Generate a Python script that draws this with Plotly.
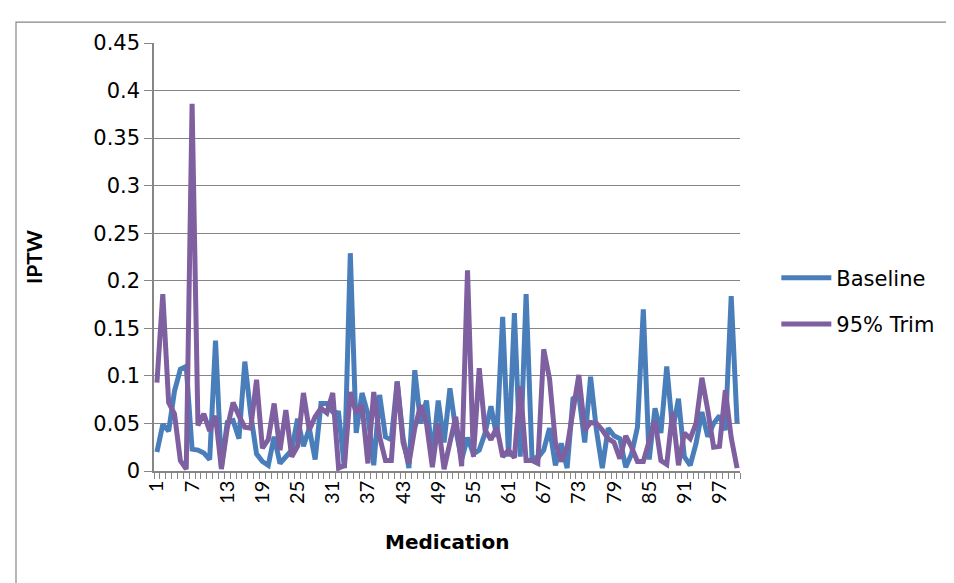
import plotly.graph_objects as go

medication = list(range(1, 101))

baseline = [
    0.020, 0.049, 0.042, 0.084, 0.107, 0.110, 0.023, 0.022, 0.019, 0.012,
    0.137, 0.004, 0.051, 0.053, 0.034, 0.115, 0.060, 0.018, 0.010, 0.006,
    0.036, 0.008, 0.015, 0.022, 0.055, 0.026, 0.045, 0.012, 0.071, 0.071,
    0.062, 0.061, 0.003, 0.229, 0.040, 0.082, 0.060, 0.006, 0.080, 0.036,
    0.033, 0.094, 0.035, 0.003, 0.106, 0.050, 0.074, 0.015, 0.074, 0.030,
    0.087, 0.043, 0.012, 0.035, 0.018, 0.022, 0.040, 0.068, 0.036, 0.162,
    0.015, 0.166, 0.015, 0.186, 0.014, 0.014, 0.022, 0.045, 0.006, 0.029,
    0.003, 0.076, 0.080, 0.030, 0.099, 0.043, 0.003, 0.045, 0.037, 0.034,
    0.004, 0.018, 0.046, 0.170, 0.012, 0.066, 0.040, 0.110, 0.043, 0.076,
    0.015, 0.006, 0.029, 0.062, 0.036, 0.050, 0.058, 0.043, 0.184, 0.050,
]

trim95 = [
    0.093, 0.186, 0.072, 0.060, 0.011, 0.002, 0.386, 0.048, 0.060, 0.042,
    0.058, 0.002, 0.045, 0.072, 0.058, 0.046, 0.045, 0.096, 0.024, 0.033,
    0.071, 0.022, 0.064, 0.015, 0.026, 0.082, 0.043, 0.057, 0.066, 0.061,
    0.082, 0.003, 0.006, 0.083, 0.061, 0.069, 0.008, 0.083, 0.036, 0.011,
    0.011, 0.094, 0.030, 0.008, 0.045, 0.069, 0.050, 0.004, 0.050, 0.002,
    0.030, 0.057, 0.005, 0.211, 0.015, 0.108, 0.043, 0.033, 0.046, 0.015,
    0.022, 0.014, 0.089, 0.011, 0.011, 0.008, 0.128, 0.097, 0.030, 0.010,
    0.025, 0.060, 0.101, 0.043, 0.051, 0.050, 0.043, 0.034, 0.030, 0.013,
    0.037, 0.025, 0.010, 0.010, 0.030, 0.053, 0.011, 0.007, 0.062, 0.006,
    0.040, 0.034, 0.050, 0.098, 0.064, 0.025, 0.026, 0.085, 0.035, 0.003,
]

x_tickvals = list(range(1, 101, 6))
x_ticktext = [str(v) for v in x_tickvals]
y_tickvals = [0, 0.05, 0.1, 0.15, 0.2, 0.25, 0.3, 0.35, 0.4, 0.45]
y_ticktext = ["0", "0.05", "0.1", "0.15", "0.2", "0.25", "0.3", "0.35", "0.4", "0.45"]

WIDE = "'DejaVu Sans', 'Liberation Sans', sans-serif"
NARROW = "Lato, 'Liberation Sans', sans-serif"
GRID = "#868686"

fig = go.Figure()
fig.add_trace(go.Scatter(
    x=medication, y=baseline, mode="lines", name="Baseline",
    line=dict(color="#4a7ebb", width=5), legendgroup="a",
))
fig.add_trace(go.Scatter(
    x=medication, y=trim95, mode="lines", name="95% Trim",
    line=dict(color="#7e5fa0", width=5), legendgroup="b",
))

fig.update_layout(
    width=946, height=575,
    margin=dict(l=146, r=214, t=35, b=112),
    paper_bgcolor="white", plot_bgcolor="white",
    font=dict(family=WIDE, size=21, color="#000000"),
    showlegend=True,
    legend=dict(
        x=1.062, y=0.397, xanchor="left", yanchor="middle",
        font=dict(family=WIDE, size=21), tracegroupgap=16,
        bgcolor="rgba(0,0,0,0)", itemwidth=50,
    ),
    xaxis=dict(
        range=[0.5, 100.5], tickmode="array", tickvals=x_tickvals, ticktext=x_ticktext,
        tickangle=-90, showgrid=False, zeroline=False,
        showline=True, linecolor=GRID, linewidth=1.5,
        ticks="", tickfont=dict(family=NARROW, size=20),
        minor=dict(tickmode="linear", tick0=0.5, dtick=1, ticks="outside",
                   ticklen=6, tickcolor=GRID, tickwidth=1, showgrid=False),
    ),
    yaxis=dict(
        range=[0, 0.45], tickmode="array", tickvals=y_tickvals, ticktext=y_ticktext,
        showgrid=True, gridcolor=GRID, gridwidth=1.2, zeroline=False,
        showline=True, linecolor=GRID, linewidth=1.5,
        ticks="outside", ticklen=8, tickcolor=GRID, tickwidth=1.2,
        tickfont=dict(family=WIDE, size=21),
    ),
    shapes=[dict(
        type="rect", xref="paper", yref="paper",
        x0=-0.2355, x1=1.3618, y0=-0.35, y1=1.049,
        line=dict(color="#868686", width=1.2), fillcolor="rgba(0,0,0,0)", layer="below",
    )],
    annotations=[
        dict(text="<b>Medication</b>", xref="paper", yref="paper", x=0.5, y=-0.166,
             xanchor="center", yanchor="middle", showarrow=False,
             font=dict(family=WIDE, size=20)),
        dict(text="<b>IPTW</b>", xref="paper", yref="paper", x=-0.2065, y=0.5,
             xanchor="center", yanchor="middle", showarrow=False, textangle=-90,
             font=dict(family=NARROW, size=21)),
    ],
)

fig.write_html("out.html")
